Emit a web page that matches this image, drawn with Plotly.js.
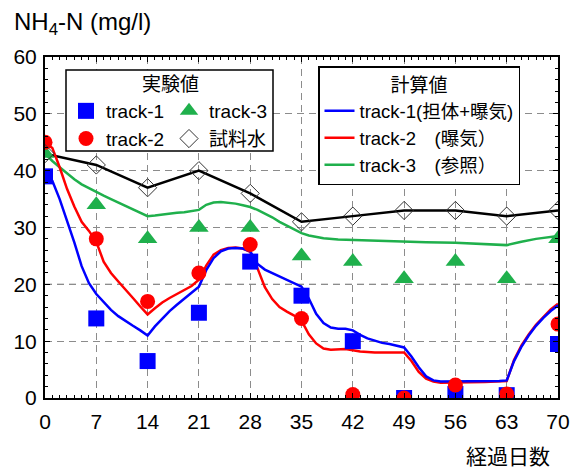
<!DOCTYPE html>
<html>
<head>
<meta charset="utf-8">
<script src="https://cdn.plot.ly/plotly-3.0.1.min.js"></script>
<style>html,body{margin:0;padding:0;background:#fff;}#chart{width:572px;height:468px;}</style>
</head>
<body>
<div id="chart"></div>
<script>
// Measured (experimental) values
const days = [0, 7, 14, 21, 28, 35, 42, 49, 56, 63, 70];
const track1Obs = [39, 14, 6.5, 15, 24, 18, 10, 0, 0.7, 0.5, 9.5];
const track2Obs = [45, 28, 17, 22, 27, 14, 0.6, 0, 2.3, 0.7, 13];
const track3Obs = [43, 34, 28, 30, 30, 25, 24, 21, 24, 21, 28];
const sampleWater = [43, 41, 37, 40, 36, 31, 32, 33, 33, 32, 33];

// Calculated curves
const calcDays1 = [0,1,2,3,4,5,6,7,8,9,10,11,12,13,14,15,16,17,18,19,20,21,22,23,24,25,26,27,28,29,30,31,32,33,34,35,36,37,38,39,40,41,42,43,44,45,46,47,48,49,50,51,52,53,54,56,58,60,62,63,64,65,66,67,68,69,70];
const track1Calc = [39,38.2,35,31.3,27.4,23.2,20.2,18.3,16.9,15.5,14.4,13.5,12.7,11.9,11.0,12.6,14.0,15.3,16.4,17.5,18.5,19.6,22.5,24.6,25.8,26.3,26.4,26.3,25.8,23.6,22.6,22.0,21.3,20.7,20.2,19.6,17.5,14.8,13.2,12.4,12.2,12.2,11.9,11.1,10.5,10.1,9.7,9.5,9.2,8.9,7.3,5.4,3.8,3.1,2.9,2.9,2.9,3.0,3.0,3.1,6.5,9.0,11.0,12.7,14.1,15.3,16.3];
const calcDays2 = [0,1,2,3,4,5,6,7,8,9,10,11,12,13,14,15,16,17,18,19,20,21,22,23,24,25,26,27,28,29,30,31,32,33,34,35,36,37,38,39,40,41,42,43,45,49,50,51,52,53,54,56,60,63,64,65,66,67,68,69,70];
const track2Calc = [45,44.0,40.6,36.8,33.7,31.0,29.4,27.5,24.0,22.0,20.5,19.1,17.6,16.1,14.7,15.8,16.8,17.6,18.3,19.0,19.7,20.8,23.3,25.2,26.0,26.4,26.5,26.3,25.7,22.8,19.5,17.4,16.0,15.2,14.5,13.6,11.2,9.6,8.7,8.5,8.6,8.6,8.4,8.2,8.0,8.0,6.5,4.6,3.4,2.9,2.7,2.7,2.8,3.0,6.7,9.2,11.2,12.9,14.3,15.6,16.6];
const calcDays3 = [0,1,2,3,4,5,6,7,8,9,10,11,12,13,14,15,16,17,18,19,20,21,22,23,24,25,26,27,28,29,30,31,32,33,34,35,36,37,38,40,42,45,49,52,56,60,63,65,67,70];
const track3Calc = [43,41.7,40.6,39.5,38.5,37.6,36.9,36.3,35.6,35.0,34.4,33.9,33.3,32.6,32.0,32.1,32.3,32.4,32.6,32.7,32.9,33.1,34.0,34.4,34.5,34.4,34.2,33.9,33.6,33.1,32.5,31.8,31.0,30.3,29.6,29.0,28.6,28.3,28.1,27.9,27.8,27.7,27.5,27.4,27.3,27.1,26.9,27.5,28.0,28.5];

const xTicks = [0, 7, 14, 21, 28, 35, 42, 49, 56, 63, 70];
const yTicks = [0, 10, 20, 30, 40, 50, 60];

const FONT = 'Liberation Sans, Arial, "Noto Sans CJK JP", sans-serif';
const BLUE = '#0000ff', RED = '#ff0000', GREEN = '#1fb04c';

const traces = [
  {x: calcDays3, y: track3Calc, mode: 'lines', line: {color: GREEN, width: 2.5}, name: 'track-3　(参照）', legend: 'legend3', legendrank: 3},
  {x: days, y: sampleWater, mode: 'lines', line: {color: '#000', width: 2.5}, showlegend: false},
  {x: calcDays2, y: track2Calc, mode: 'lines', line: {color: RED, width: 2.5}, name: 'track-2　(曝気）', legend: 'legend3', legendrank: 2},
  {x: calcDays1, y: track1Calc, mode: 'lines', line: {color: BLUE, width: 2.5}, name: 'track-1(担体+曝気)', legend: 'legend3', legendrank: 1},
  {x: days, y: track1Obs, mode: 'markers', marker: {symbol: 'square', size: 16, color: BLUE}, name: 'track-1', legend: 'legend', legendrank: 1},
  {x: days, y: track3Obs, mode: 'markers', marker: {symbol: 'triangle-up', size: 17, color: GREEN}, name: 'track-3', legend: 'legend2', legendrank: 1},
  {x: days, y: track2Obs, mode: 'markers', marker: {symbol: 'circle', size: 15, color: RED}, name: 'track-2', legend: 'legend', legendrank: 2},
  {x: days, y: sampleWater, mode: 'markers', marker: {symbol: 'diamond-open', size: 14, color: '#333', line: {width: 1}}, name: '試料水', legend: 'legend2', legendrank: 2}
];

const gridStyle = {showgrid: true, gridcolor: '#8c8c8c', gridwidth: 1, griddash: '7px,5px'};
const W = 572, H = 468, L = 45, R = 14, T = 57, B = 70;
const pw = W - L - R, ph = H - T - B;
const px = v => (v - L) / pw;
const py = v => (H - B - v) / ph;

const layout = {
  width: W, height: H,
  margin: {l: L, r: R, t: T, b: B},
  paper_bgcolor: '#fff', plot_bgcolor: '#fff',
  font: {family: FONT, size: 20, color: '#000'},
  showlegend: true,
  xaxis: Object.assign({
    range: [0, 70], tickmode: 'array', tickvals: xTicks, ticktext: xTicks.map(String),
    ticks: 'inside', ticklen: 5, tickwidth: 1, tickcolor: '#000', ticklabelstandoff: 4,
    showline: true, linewidth: 2, linecolor: '#000', mirror: 'allticks', zeroline: false,
    tickfont: {size: 21},
    minor: {dtick: 1, tick0: 0, ticks: 'inside', ticklen: 3, tickcolor: '#000', showgrid: false}
  }, gridStyle),
  yaxis: Object.assign({
    range: [0, 60], tickmode: 'array', tickvals: yTicks, ticktext: yTicks.map(String),
    ticks: 'inside', ticklen: 5, tickwidth: 1, tickcolor: '#000', ticklabelstandoff: 2,
    showline: true, linewidth: 2, linecolor: '#000', mirror: 'allticks', zeroline: false,
    tickfont: {size: 21},
    minor: {dtick: 2, tick0: 0, ticks: 'inside', ticklen: 3, tickcolor: '#000', showgrid: false}
  }, gridStyle),
  legend: {x: px(66), y: py(92), xanchor: 'left', yanchor: 'top', bgcolor: 'rgba(0,0,0,0)', borderwidth: 0, font: {size: 19}},
  legend2: {x: px(169), y: py(92), xanchor: 'left', yanchor: 'top', bgcolor: 'rgba(0,0,0,0)', borderwidth: 0, font: {size: 19}},
  legend3: {x: px(318), y: py(66), xanchor: 'left', yanchor: 'top', bgcolor: '#fff', bordercolor: '#000', borderwidth: 1.5, font: {size: 18.5},
            title: {text: '計算値', side: 'top center', font: {size: 19}}},
  shapes: [
    {type: 'line', xref: 'paper', yref: 'y', x0: 0, x1: 1, y0: 20, y1: 20, line: {color: '#222', width: 1, dash: '7px,5px'}, layer: 'below'},
    {type: 'rect', xref: 'paper', yref: 'paper', x0: px(66), x1: px(273), y0: py(151), y1: py(70), line: {color: '#000', width: 1.5}, fillcolor: '#fff', layer: 'above'}
  ],
  annotations: [
    {text: 'NH<sub>4</sub>-N (mg/l)', xref: 'paper', yref: 'paper', x: px(12), y: py(23), xanchor: 'left', yanchor: 'middle', showarrow: false, font: {size: 24}},
    {text: '実験値', xref: 'paper', yref: 'paper', x: px(170), y: py(84), xanchor: 'center', yanchor: 'middle', showarrow: false, font: {size: 19}},
    {text: '経過日数', xref: 'paper', yref: 'paper', x: px(508), y: py(456), xanchor: 'center', yanchor: 'middle', showarrow: false, font: {size: 21}}
  ]
};

Plotly.newPlot('chart', traces, layout, {staticPlot: true, displayModeBar: false});
</script>
</body>
</html>
